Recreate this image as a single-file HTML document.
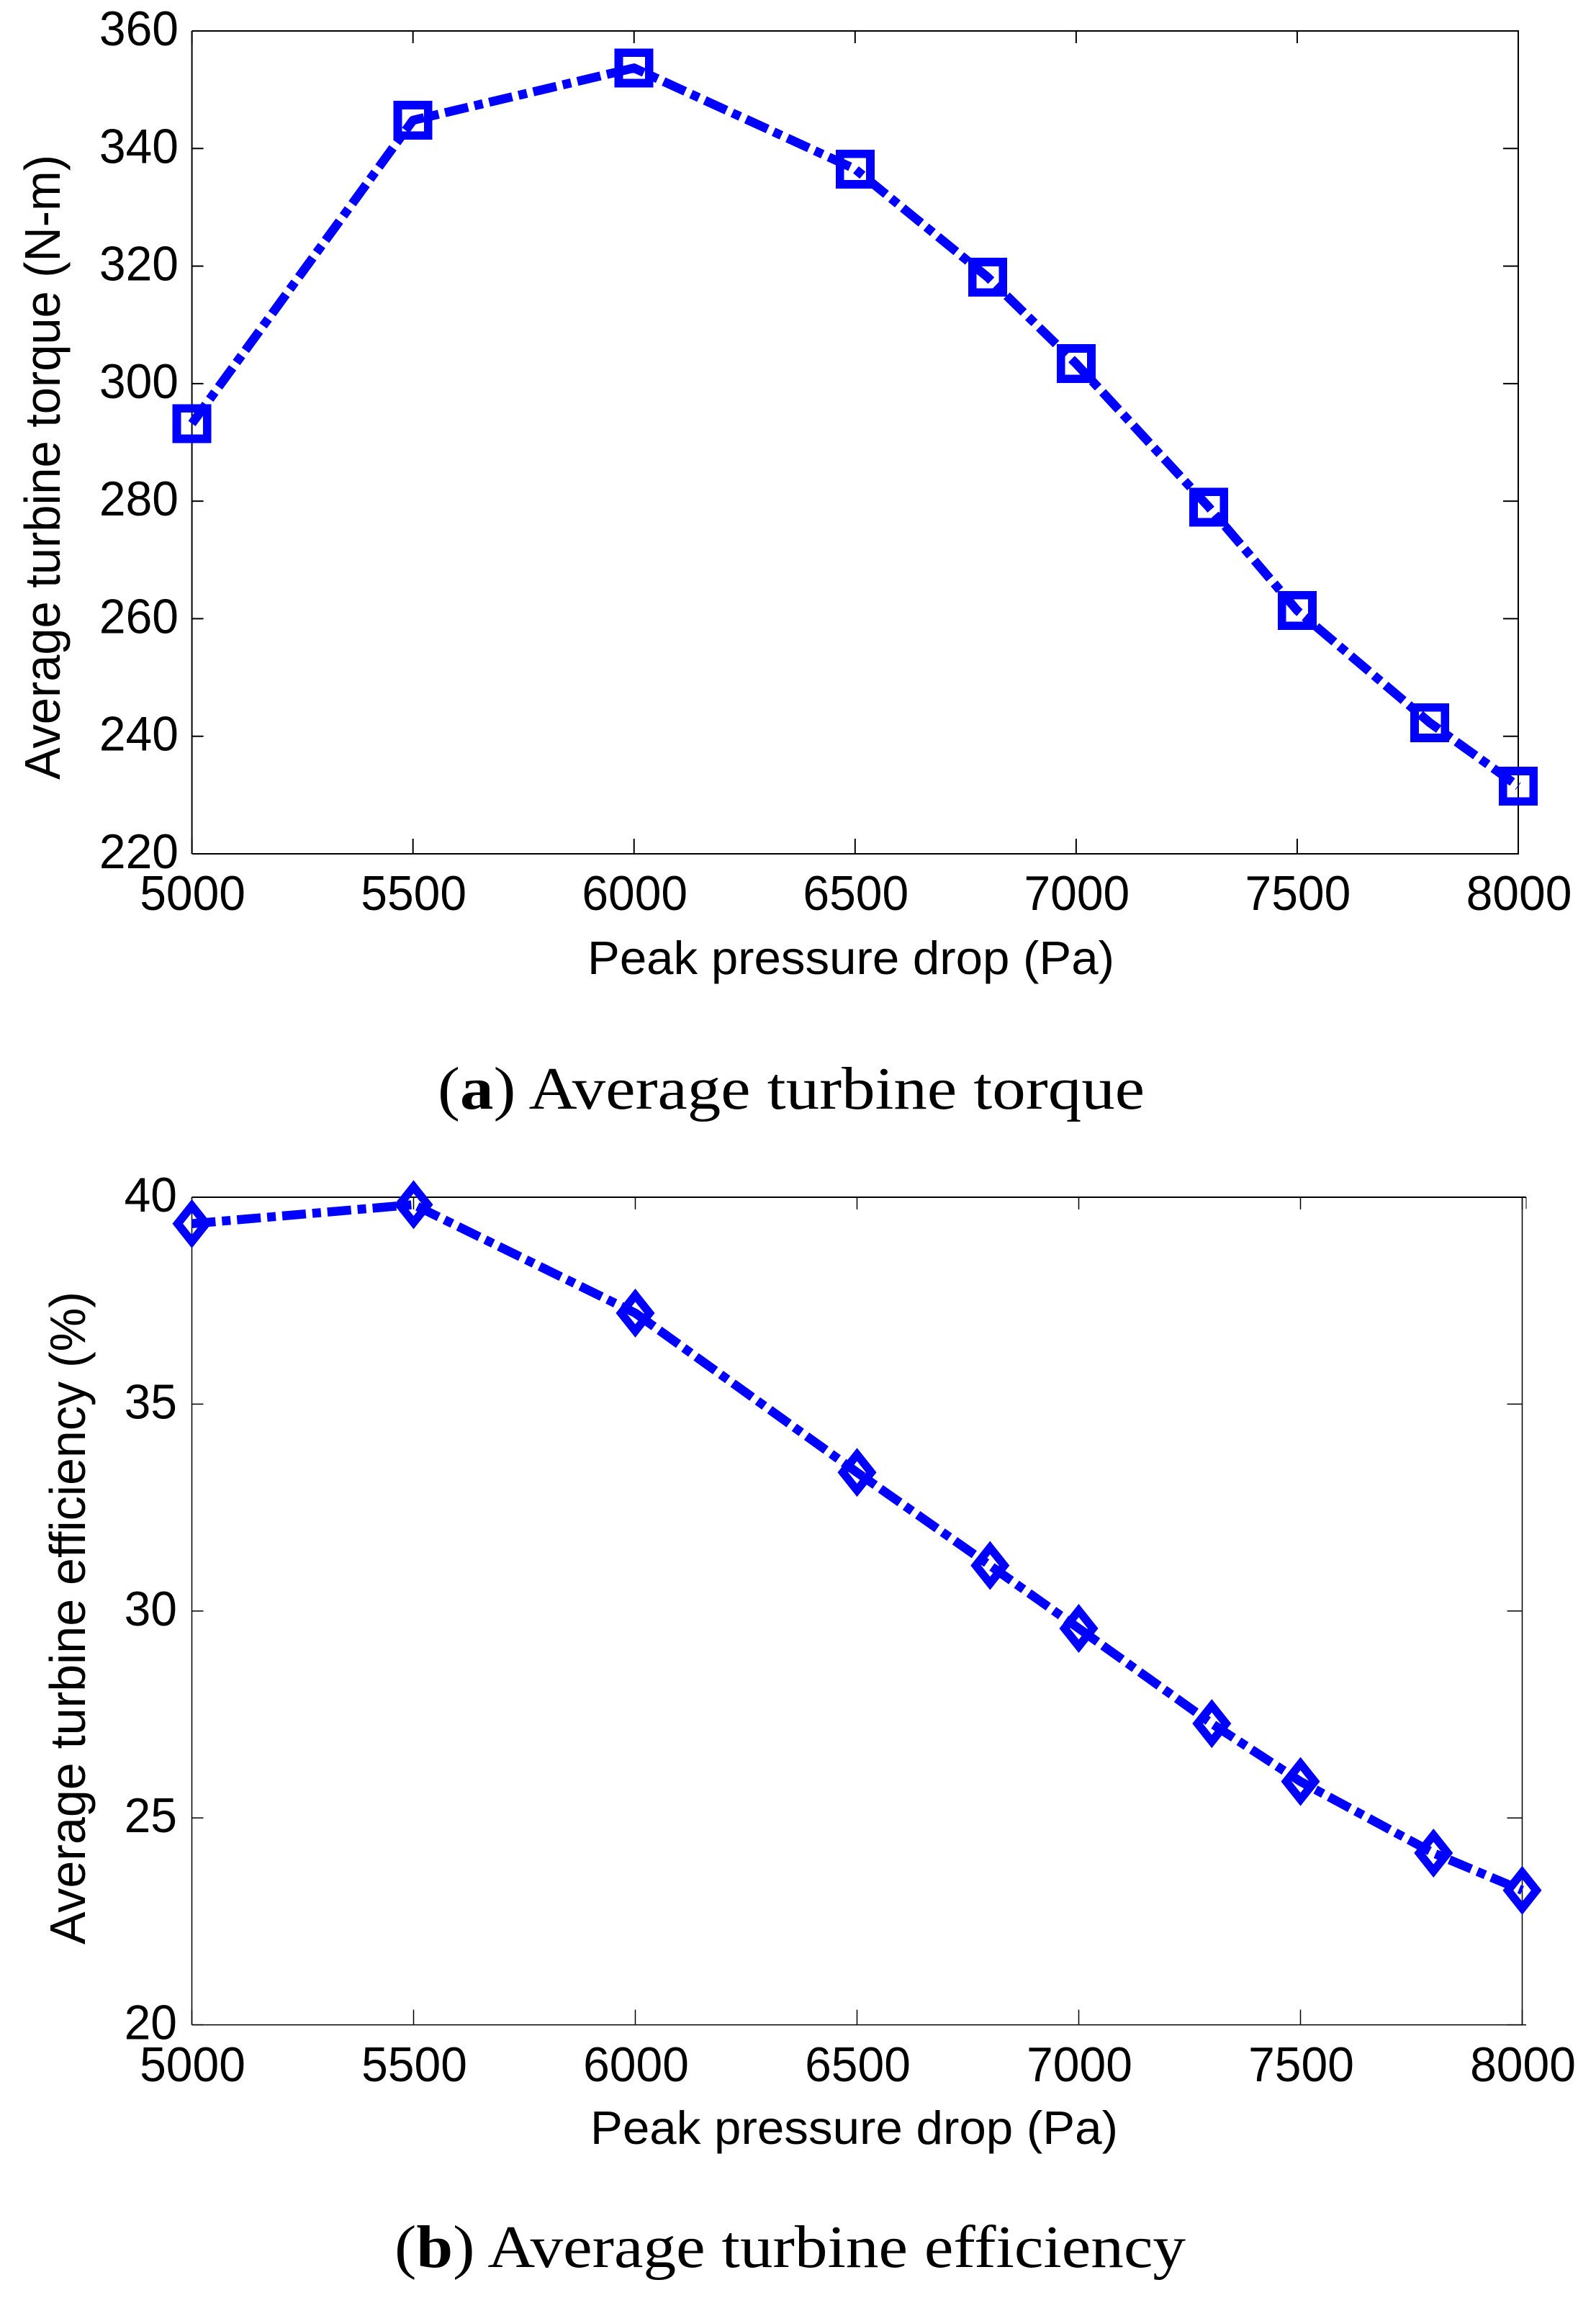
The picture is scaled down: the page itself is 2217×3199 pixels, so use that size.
<!DOCTYPE html>
<html lang="en">
<head>
<meta charset="utf-8">
<title>Average turbine torque and efficiency</title>
<style>
html,body{margin:0;padding:0;background:#fff;}
body{width:2217px;height:3199px;overflow:hidden;}
svg{display:block;}
.sans{font-family:"Liberation Sans",sans-serif;fill:#000;}
.serif{font-family:"Liberation Serif",serif;fill:#000;}
.tick{font-size:68px;}
.title{font-size:65px;}
.ytitle{font-size:70px;}
.cap{font-size:84px;}
</style>
</head>
<body>
<svg id="fig" xmlns="http://www.w3.org/2000/svg" width="2217" height="3199" viewBox="0 0 2217 3199">
  <rect x="0" y="0" width="2217" height="3199" fill="#fff"/>
  <g id="chartA"></g>
  <g id="chartB"></g>
  <text class="sans ytitle" transform="translate(83 1083) rotate(-90)" textLength="868" lengthAdjust="spacingAndGlyphs">Average turbine torque (N-m)</text>
  <text class="sans title" x="816" y="1353" textLength="732" lengthAdjust="spacingAndGlyphs">Peak pressure drop (Pa)</text>
  <text class="serif cap" x="608" y="1540" textLength="982" lengthAdjust="spacingAndGlyphs">(<tspan font-weight="bold">a</tspan>) Average turbine torque</text>
  <text class="sans ytitle" transform="translate(118 2701) rotate(-90)" textLength="907" lengthAdjust="spacingAndGlyphs">Average turbine efficiency (%)</text>
  <text class="sans title" x="820" y="2978" textLength="733" lengthAdjust="spacingAndGlyphs">Peak pressure drop (Pa)</text>
  <text class="serif cap" x="548" y="3149" textLength="1099" lengthAdjust="spacingAndGlyphs">(<tspan font-weight="bold">b</tspan>) Average turbine efficiency</text>
</svg>
<script>
const pressureCategories = [5000, 5500, 6000, 6500, 6800, 7000, 7300, 7500, 7800, 8000];
const torqueValues = [293.2, 344.8, 353.7, 336.5, 318.1, 303.4, 279.0, 261.4, 242.3, 231.5];
const efficiencyValues = [39.36, 39.82, 37.2, 33.35, 31.1, 29.58, 27.28, 25.88, 24.15, 23.25];
const xTickLabels = [5000, 5500, 6000, 6500, 7000, 7500, 8000];
const torqueTickLabels = [220, 240, 260, 280, 300, 320, 340, 360];
const efficiencyTickLabels = [20, 25, 30, 35, 40];

const NS = 'http://www.w3.org/2000/svg';
const DASH = '33 9 12 9';
const DIGIT_WIDTH = 36.7;

function linear(d0, d1, r0, r1) {
  return function (v) { return r0 + (v - d0) * (r1 - r0) / (d1 - d0); };
}
function make(tag, parent, attrs) {
  const el = document.createElementNS(NS, tag);
  for (const k in attrs) el.setAttribute(k, attrs[k]);
  parent.appendChild(el);
  return el;
}

function drawFrame(g, box, w) {
  const top = make('line', g, {x1: box.l, y1: box.t, x2: box.topEnd, y2: box.t, stroke: '#000', 'stroke-width': 2});
  
  
  const bottom = make('line', g, {x1: box.l, y1: box.b, x2: box.topEnd, y2: box.b, stroke: '#000', 'stroke-width': w});
  
  
  const left = make('line', g, {x1: box.l, y1: box.t, x2: box.l, y2: box.b, stroke: '#000', 'stroke-width': w});
  
  
  const right = make('line', g, {x1: box.r, y1: box.t, x2: box.r, y2: box.b, stroke: '#000', 'stroke-width': w});
  
  
}

function drawXTicks(g, box, x, labels, opt) {
  labels.forEach(function (v) {
    const px = x(v);
    const t1 = make('line', g, {x1: px, y1: box.t, x2: px, y2: box.t + 17, stroke: '#000', 'stroke-width': opt.w});
    
    
    const t2 = make('line', g, {x1: px, y1: box.b, x2: px, y2: box.b - opt.bottomTick, stroke: '#000', 'stroke-width': opt.w});
    
    
    const text = String(v);
    const label = make('text', g, {x: px + opt.labelShift, y: opt.labelY, 'text-anchor': 'middle', class: 'sans tick', textLength: text.length * DIGIT_WIDTH, lengthAdjust: 'spacingAndGlyphs'});
    label.textContent = text;
    
    
  });
}

function drawYTicks(g, box, y, labels, opt) {
  labels.forEach(function (v) {
    const py = y(v);
    const t1 = make('line', g, {x1: box.l, y1: py, x2: box.l + 16, y2: py, stroke: '#000', 'stroke-width': opt.w});
    
    
    const t2 = make('line', g, {x1: box.r - 21, y1: py, x2: box.r, y2: py, stroke: '#000', 'stroke-width': opt.w});
    
    
    const text = String(v);
    const label = make('text', g, {x: opt.labelRight, y: py + 20, 'text-anchor': 'end', class: 'sans tick', textLength: text.length * DIGIT_WIDTH, lengthAdjust: 'spacingAndGlyphs'});
    label.textContent = text;
    
    
  });
}

function drawLine(g, x, y, values, name) {
  const pts = pressureCategories.map(function (c, i) { return x(c) + ',' + y(values[i]); }).join(' ');
  const line = make('polyline', g, {points: pts, fill: 'none', stroke: '#0000ff', 'stroke-width': 12.5, 'stroke-dasharray': DASH, 'stroke-linejoin': 'round'});
  
  
}

function drawSquare(g, px, py) {
  const side = 42.3;
  const m = make('rect', g, {x: px - side / 2, y: py - side / 2, width: side, height: side, fill: 'none', stroke: '#0000ff', 'stroke-width': 11.7, 'shape-rendering': 'crispEdges'});
  
  
}

function drawDiamond(g, px, py) {
  const a = 19.7, b = 24.8;
  const pts = [px, py - b, px + a, py, px, py + b, px - a, py].join(' ');
  const m = make('polygon', g, {points: pts, fill: 'none', stroke: '#0000ff', 'stroke-width': 11.5, 'stroke-linejoin': 'miter', 'stroke-miterlimit': 10});
  
  
}

/* Chart A: torque */
const gA = document.getElementById('chartA');
const boxA = {l: 266.6, r: 2109, t: 43, b: 1186, topEnd: 2110};
const xA = linear(5000, 8000, boxA.l, boxA.r);
const yA = linear(220, 360, boxA.b, boxA.t);
drawFrame(gA, boxA, 2);
drawXTicks(gA, boxA, xA, xTickLabels, {w: 2, bottomTick: 21, labelShift: 1, labelY: 1264});
drawYTicks(gA, boxA, yA, torqueTickLabels, {w: 2, labelRight: 248});
drawLine(gA, xA, yA, torqueValues, 'torque-line');
pressureCategories.forEach(function (c, i) { drawSquare(gA, xA(c), yA(torqueValues[i])); });

/* Chart B: efficiency */
const gB = document.getElementById('chartB');
const boxB = {l: 266.5, r: 2114.5, t: 1663, b: 2812.6, topEnd: 2120};
const xB = linear(5000, 8000, boxB.l, boxB.r);
const yB = linear(20, 40, boxB.b, boxB.t);
drawFrame(gB, boxB, 1.5);
const stub = make('line', gB, {x1: boxB.topEnd, y1: boxB.t, x2: boxB.topEnd, y2: boxB.t + 16, stroke: '#000', 'stroke-width': 1});


drawXTicks(gB, boxB, xB, xTickLabels, {w: 1.5, bottomTick: 21, labelShift: 1, labelY: 2891});
drawYTicks(gB, boxB, yB, efficiencyTickLabels, {w: 1.5, labelRight: 246});
drawLine(gB, xB, yB, efficiencyValues, 'efficiency-line');
pressureCategories.forEach(function (c, i) { drawDiamond(gB, xB(c), yB(efficiencyValues[i])); });
</script>
</body>
</html>
